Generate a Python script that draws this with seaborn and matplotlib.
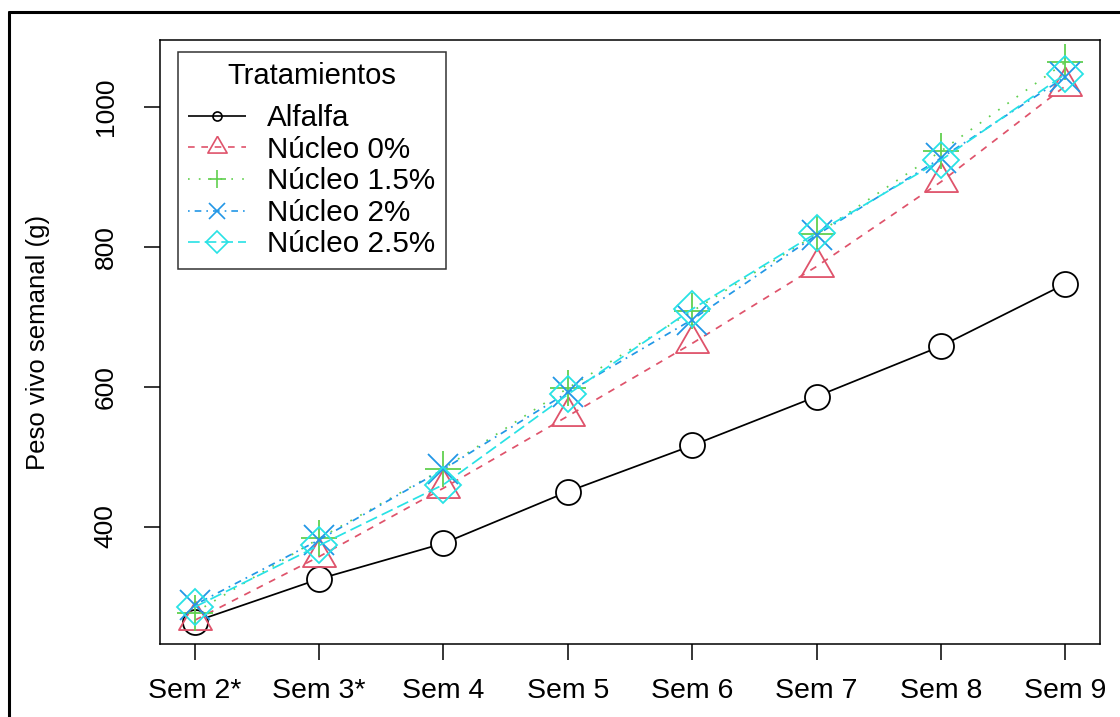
import numpy as np
import pandas as pd
import seaborn as sns
import matplotlib
matplotlib.use("Agg")
import matplotlib.pyplot as plt
from matplotlib.lines import Line2D

# datos
semanas = ["Sem 2*", "Sem 3*", "Sem 4", "Sem 5", "Sem 6", "Sem 7", "Sem 8", "Sem 9"]
tratamientos = ["Alfalfa", "Núcleo 0%", "Núcleo 1.5%", "Núcleo 2%", "Núcleo 2.5%"]
alfalfa = [264, 325, 376, 450, 516, 586, 658, 747]
nucleo_0 = [266, 357, 455, 558, 662, 772, 893, 1030]
nucleo_15 = [277, 383, 483, 598, 708, 818, 937, 1064]
nucleo_2 = [288, 381, 482, 592, 696, 817, 927, 1043]
nucleo_25 = [285, 373, 460, 589, 711, 820, 924, 1047]
yticks = [400, 600, 800, 1000]

series = [alfalfa, nucleo_0, nucleo_15, nucleo_2, nucleo_25]
x = np.arange(1, len(semanas) + 1)
df = pd.DataFrame({
    "semana": np.tile(x, len(tratamientos)),
    "peso": np.concatenate(series),
    "tratamiento": np.repeat(tratamientos, len(semanas)),
})

sns.set_theme(style="white")
plt.rcParams["font.family"] = ["Liberation Sans", "DejaVu Sans"]
plt.rcParams["text.color"] = "black"
plt.rcParams["axes.labelcolor"] = "black"
plt.rcParams["xtick.color"] = "black"
plt.rcParams["ytick.color"] = "black"

colores = ["black", "#DF536B", "#61D04F", "#2297E6", "#28E2E5"]
tri = [(0, 1), (-0.866, -0.5), (0.866, -0.5), (0, 1)]
marcas = ["o", tri, "+", "x", "D"]
tam = [18, 27.5, 26, 22, 18]
tam_leg = [6.5, 16, 13, 12, 11]
lineas = [(0, ()), (0, (4, 4)), (0, (1, 5.5)), (0, (1, 3, 4, 3)), (0, (7, 3))]

fig = plt.figure(figsize=(11.2, 7.17), dpi=100)
ax = fig.add_axes([160 / 1120, 1 - 644 / 717, 940 / 1120, 604 / 717])

handles = []
for i, t in enumerate(tratamientos):
    d = df[df.tratamiento == t]
    sns.lineplot(data=d, x="semana", y="peso", ax=ax, color=colores[i],
                 linestyle=lineas[i], linewidth=1.25, marker=marcas[i],
                 markersize=tam[i], markerfacecolor="white" if i == 0 else "none",
                 markeredgecolor=colores[i], markeredgewidth=1.3, legend=False)
    handles.append(Line2D([], [], color=colores[i], linestyle=lineas[i], linewidth=1.2,
                          marker=marcas[i], markersize=tam_leg[i], markerfacecolor="none",
                          markeredgecolor=colores[i], markeredgewidth=1.2, label=t))

ax.set_xlim(0.72, 8.28)
ax.set_ylim(232, 1096)
ax.set_xticks(x)
ax.set_xticklabels(semanas, fontsize=20.5)
ax.set_yticks(yticks)
ax.set_yticklabels([str(v) for v in yticks], fontsize=19, rotation=90, va="center")
ax.set_xlabel("")
ax.set_ylabel("Peso vivo semanal (g)", fontsize=18.5)
ax.yaxis.set_label_coords(-0.117, 0.5)
ax.tick_params(axis="both", direction="out", length=11.5, width=1.1, color="black",
               left=True, bottom=True)
ax.tick_params(axis="x", pad=13)
ax.tick_params(axis="y", pad=19)
for s in ax.spines.values():
    s.set_color("black")
    s.set_linewidth(1.1)

leg = ax.legend(handles=handles, title="Tratamientos", loc="upper left",
                bbox_to_anchor=(18 / 940, 1 - 12 / 604), borderaxespad=0,
                fontsize=21.3, title_fontsize=21, frameon=True, fancybox=False,
                edgecolor="black", handlelength=1.95, handletextpad=0.72,
                labelspacing=0.12, borderpad=0.35)
leg.get_frame().set_linewidth(1.1)
leg._legend_box.sep = 10  # mas espacio bajo el titulo

# marco exterior (solo arriba e izquierda visibles)
fig.add_artist(Line2D([9 / 1120, 9 / 1120], [0, 1 - 12 / 717], color="black",
                      linewidth=2.2, transform=fig.transFigure))
fig.add_artist(Line2D([9 / 1120, 1], [1 - 12 / 717, 1 - 12 / 717], color="black",
                      linewidth=2.2, transform=fig.transFigure))

fig.savefig("out.png", dpi=100)
